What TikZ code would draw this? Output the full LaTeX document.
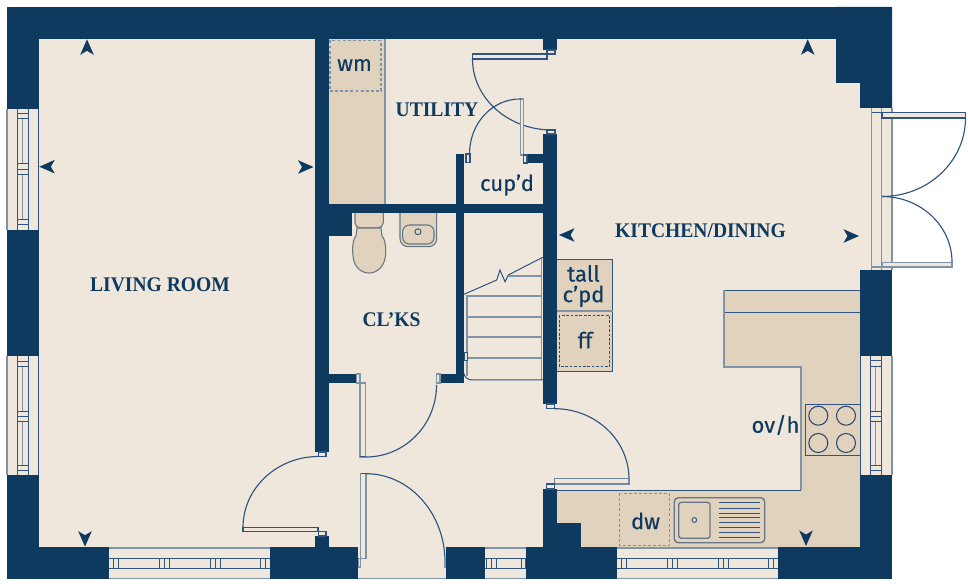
\documentclass[tikz,border=0pt]{standalone}
\usepackage{fontspec}
\setmainfont{Liberation Serif}
\newfontfamily\labelfont[FakeBold=0.3]{Fira Sans}
\newfontfamily\roomfont[FakeStretch=0.94]{Liberation Serif Bold}
\definecolor{navyw}{HTML}{0F3A60}
\definecolor{floorc}{HTML}{EFE7DB}
\definecolor{tanc}{HTML}{E0D2BD}
\definecolor{linec}{HTML}{2F5480}
\definecolor{greyc}{HTML}{8094A8}
\tikzset{
  wallf/.style={fill=navyw},
  thin line/.style={draw=linec,line width=0.75pt},
  soft line/.style={draw=greyc,line width=0.9pt},
  arcline/.style={draw=linec,line width=0.85pt},
  leaf/.style={draw=linec,line width=0.8pt,fill=floorc},
  dashbox/.style={draw=greyc,line width=0.85pt,dash pattern=on 2.2pt off 1.6pt},
  room/.style={text=navyw,font=\roomfont\fontsize{15.6}{18}\selectfont,inner sep=0},
  fit label/.style={text=navyw,font=\labelfont\fontsize{16.5}{17}\selectfont,inner sep=0,align=center},
}
\newcommand\wallr[4]{\fill[wallf] (#1,#2) rectangle (#3,#4);}
\newcommand\swing[6]{\draw[arcline] (#3,#4) .. controls ({#3+0.552*(#5-#1)},{#4+0.552*(#6-#2)}) and ({#5+0.552*(#3-#1)},{#6+0.552*(#4-#2)}) .. (#5,#6);}
\newcommand\dart[3]{\fill[navyw,shift={(#1,#2)},rotate=#3] (0,0)--(-6.8,15.5)--(0,11.5)--(6.8,15.5)--cycle;}
\newcommand\vwindow[5]{%
  \fill[floorc] (#3,#1) rectangle (#4,#2);
  \draw[thin line] (#3+10.5,#1) -- (#3+10.5,#2) (#3+21,#1) -- (#3+21,#2);
  \draw[soft line] (#3+15.5,#1+10) -- (#3+15.5,#1+55) (#3+15.5,#1+65) -- (#3+15.5,#1+110);
  \foreach \r in {#5} {\draw[thin line] (#3+10.5,\r) -- (#3+21,\r);}
}
\newcommand\hwindow[3]{%
  \fill[floorc] (#1,548) rectangle (#2,579);
  \draw[thin line] (#1,558.3) -- (#2,558.3) (#1,568.3) -- (#2,568.3);
  \foreach \r in {#3} {\draw[thin line] (\r,558.3) -- (\r,568.3);}
  \draw[soft line] (#1,578.3) -- (#2,578.3);
  \draw[soft line] (#1,548) -- (#2,548);
}
\begin{document}
\begin{tikzpicture}[x=0.75pt,y=-0.75pt]
\useasboundingbox (0,0) rectangle (968,584);
\fill[white] (0,0) rectangle (968,584);
% floor
\fill[floorc] (7,7) rectangle (892,579);
% utility worktop
\fill[tanc] (329,39) rectangle (385,204);
\draw[soft line] (385,39) -- (385,204);
\draw[dashbox] (330,40.5) rectangle (381,91);
% kitchen units
\fill[tanc] (724,291) -- (860,291) -- (860,547) -- (557,547) -- (557,490) -- (801,490) -- (801,367) -- (724,367) -- cycle;
\draw[thin line] (724,290.5) -- (860,290.5) (724,313) -- (860,313) (557,490.2) -- (801,490.2);
\draw[soft line] (724,290.5) -- (724,367) -- (801,367) -- (801,490.2);
% hob
\draw[thin line] (805,404.3) rectangle (860,455.3);
\foreach \cx/\cy in {818.3/415.7,846/415.7,818.3/443,846/443} {\draw[draw=linec!85!black,line width=0.8pt] (\cx,\cy) circle[radius=9.5];}
% dishwasher
\draw[dashbox] (619.3,493.3) rectangle (669.3,545.7);
% sink
\draw[draw=greyc!80!black,line width=1pt,rounded corners=3pt] (674.3,497.7) rectangle (764.7,542.7);
\draw[draw=greyc!80!black,line width=1pt,rounded corners=2pt] (678.7,502.3) rectangle (710,538.3);
\draw[draw=linec,line width=0.7pt] (694.3,520) circle[radius=2.4];
\foreach \r in {503,508.3,513.3,517.7,522.3,527.3,532.7,537.3} {\draw[thin line] (718.7,\r) -- (760,\r);}
% tall cupboard and fridge
\fill[tanc] (557,260) rectangle (612.5,372);
\draw[thin line] (557,260) -- (612.5,260) -- (612.5,372) -- (557,372);
\draw[soft line] (557,311) -- (612.5,311);
\draw[draw=linec,line width=0.7pt,dash pattern=on 2pt off 1.3pt] (559.3,315.5) rectangle (609.7,366.7);
% WC
\filldraw[fill=tanc,draw=greyc!80!black,line width=0.8pt,rounded corners=4pt] (355,213) -- (355,228) -- (383.3,228) -- (383.3,213);
\filldraw[fill=tanc,draw=greyc!80!black,line width=0.8pt] (357,228) -- (381,228) -- (382,236) .. controls (386,240) and (386,252) .. (385.5,256) .. controls (384,268) and (376,273) .. (369,273) .. controls (362,273) and (354,268) .. (353,256) .. controls (352.5,252) and (352,240) .. (356,236) -- cycle;
% basin
\filldraw[fill=tanc,draw=greyc!80!black,line width=0.8pt,rounded corners=6pt] (400,213) -- (400,246.7) -- (436.7,246.7) -- (436.7,213);
\draw[draw=greyc!80!black,line width=0.8pt,rounded corners=5pt] (402.7,225) -- (402.7,244) -- (434,244) -- (434,225) -- cycle;
\draw[draw=linec,line width=0.7pt] (418,231.7) circle[radius=3];
% stairs
\draw[soft line] (541.7,258) -- (541.7,380);
\draw[soft line] (467,295) -- (467,376);
\draw[thin line] (464,294.3) -- (496.7,280) -- (500,270) -- (505,281.7) -- (508.3,275) -- (542.7,257.3);
\draw[soft line] (508.3,276) -- (541.7,276) (467,296) -- (541.7,296) (467,317) -- (541.7,317) (467,337) -- (541.7,337) (467,358) -- (541.7,358);
\draw[thin line,rounded corners=5pt] (464,374) -- (465,380) -- (543,380);
\draw[thin line,fill=floorc] (464,352.7) rectangle (467.5,360.7);
% walls
\wallr{7}{7}{892}{39.3}
\wallr{7}{7}{39}{109}
\wallr{7}{230}{39}{356}
\wallr{7}{475}{39}{579}
\wallr{7}{547}{108.7}{579}
\wallr{270}{547}{358}{579}
\wallr{445.7}{547}{485.3}{579}
\wallr{526}{547}{616.7}{579}
\wallr{778}{547}{892}{579}
\fill[wallf] (836,7) -- (892,7) -- (892,108.5) -- (860,108.5) -- (860,83) -- (836,83) -- cycle;
\wallr{860}{270.5}{892}{356}
\wallr{860}{475}{892}{579}
\wallr{315}{39}{329}{452}
\wallr{329}{204.5}{543}{213}
\wallr{329}{213}{352}{236}
\wallr{543}{39}{557}{50}
\wallr{543}{134}{557}{404}
\wallr{455.5}{154}{464}{383}
\wallr{526.5}{154}{543}{163}
\wallr{329}{374}{356.5}{383}
\wallr{440}{374}{464}{383}
\wallr{315}{536}{329}{547}
\wallr{543.3}{489}{557}{547}
\wallr{557}{522.7}{581}{547}
% windows
\vwindow{109}{230}{7}{39}{114,119,164,169.3,174.3,219.3,225}
\vwindow{356}{475}{7}{39}{361.7,367,411.3,416.7,421.7,465.3,470.7}
\vwindow{356}{475}{860}{892}{361,367,411.7,416.7,421.7,465.7,471}
\draw[thin line] (38.5,109) -- (38.5,230) (38.5,356) -- (38.5,475);
\draw[soft line] (7,109) -- (7,230) (7,356) -- (7,475);
\draw[thin line] (860.5,356) -- (860.5,475);
\draw[soft line] (892,356) -- (892,475);
\hwindow{108.7}{270}{113.3,118.7,159.3,164.3,169.3,210.7,215.7,220.7,260.7,265.7}
\hwindow{616.7}{778}{621.7,626.7,667.7,672.7,677.7,718.3,723.3,728.7,768.7,773.7}
\hwindow{485.3}{526}{486,491,496,521.7,525}
\draw[soft line] (358,578.3) -- (445.7,578.3);
% french doors and frame
\fill[floorc] (860,108.5) rectangle (892,270.5);
\draw[soft line] (871.7,108.5) -- (871.7,270.5) (881.7,108.5) -- (881.7,270.5) (892,108.5) -- (892,270.5);
\draw[thin line] (871.7,112.5) -- (892,112.5);
\draw[soft line] (871.7,267) -- (892,267);
\filldraw[fill=floorc,draw=linec,line width=0.8pt] (882,112.5) rectangle (965.5,118);
\filldraw[fill=floorc,draw=greyc,line width=0.85pt] (882,262.3) rectangle (952,267);
\swing{882}{118}{965.5}{118}{882}{196.5}
\swing{882}{262}{882}{196.5}{952}{262}
% interior doors
\draw[leaf] (547,50) rectangle (555,54);
\draw[leaf] (472.5,54) rectangle (547,59);
\swing{552}{59}{472.5}{59}{552}{130}
\draw[leaf] (547,130) rectangle (555,134);
\draw[leaf,draw=greyc] (520.5,99) rectangle (523.5,155);
\draw[leaf] (523.5,155) rectangle (527,163);
\draw[leaf] (466,154) rectangle (470,162.5);
\swing{521}{155}{521}{99}{469.5}{154}
\draw[leaf,draw=greyc] (356.5,374) rectangle (360,383);
\draw[leaf,draw=greyc] (360,383) rectangle (365.7,457);
\draw[thin line] (360,457) -- (366,457);
\draw[leaf,draw=greyc] (436.5,374) rectangle (440,383);
\swing{366}{385}{366}{457}{436.5}{385}
\draw[leaf] (318.5,452) rectangle (326,456.7);
\swing{318.5}{527.5}{318.5}{456.5}{243}{527.5}
\draw[leaf] (243,527.4) rectangle (318,531.4);
\draw[leaf] (318.5,531.4) rectangle (326,536);
\draw[leaf,draw=greyc] (358.5,558.7) rectangle (360.7,567);
\draw[leaf,draw=greyc] (360.7,473.7) rectangle (366,558.7);
\draw[thin line] (360.7,473.7) -- (366,473.7);
\swing{366}{562}{366}{473.7}{445}{562}
\draw[leaf,draw=greyc] (444.6,558) rectangle (445.8,567);
\draw[leaf] (546.5,404) rectangle (554.5,408.7);
\swing{554.5}{479}{554.5}{408.7}{629}{479}
\draw[leaf,draw=greyc!80!linec] (554.5,478.7) rectangle (629,484);
\draw[leaf] (546.5,484) rectangle (554.5,489);
% direction darts
\dart{87}{39.3}{0}
\dart{807.7}{39.3}{0}
\dart{39.3}{166.7}{90}
\dart{313.5}{167}{-90}
\dart{85}{546.7}{180}
\dart{559}{235}{90}
\dart{859}{236}{-90}
\dart{806}{546}{180}
% labels
\node[room] (living) at (160,285) {LIVING ROOM};
\node[room] (utility) at (437,110) {UTILITY};
\node[room] (kitchen) at (700.5,231) {KITCHEN/DINING};
\node[room] (clks) at (391.5,320) {CL’KS};
\node[fit label] (wm) at (354.5,65) {wm};
\node[fit label] (cupd) at (507,185) {cup’d};
\node[fit label] (tall) at (583.5,286) {tall\\[-1.5pt]c’pd};
\node[fit label] (ff) at (585,340) {ff};
\node[fit label] (ovh) at (775.5,425) {ov/h};
\node[fit label] (dw) at (645.5,521) {dw};
\end{tikzpicture}
\end{document}
